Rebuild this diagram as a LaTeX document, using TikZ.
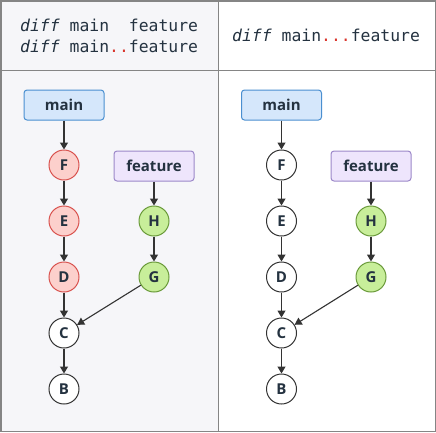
\documentclass[tikz,border=0pt]{standalone}
\usepackage{fontspec}
\setmainfont{Open Sans}
\setmonofont{DejaVu Sans Mono}
\usetikzlibrary{arrows.meta}
\definecolor{leftbg}{HTML}{F6F6F9}
\definecolor{gridc}{HTML}{858585}
\definecolor{txt}{HTML}{243240}
\definecolor{mainfill}{HTML}{D5E7FB}
\definecolor{maindraw}{HTML}{4A8FD0}
\definecolor{featfill}{HTML}{EEE5FC}
\definecolor{featdraw}{HTML}{9C88C9}
\definecolor{redfill}{HTML}{FCD0CC}
\definecolor{reddraw}{HTML}{D9534F}
\definecolor{grnfill}{HTML}{C8EE9A}
\definecolor{grndraw}{HTML}{6A9A3A}
\definecolor{dotred}{HTML}{D9342B}
\definecolor{linec}{HTML}{333333}
\tikzset{
  x=1bp, y=-1bp,
  refbox/.style={draw, rounded corners=3bp, line width=1bp, minimum width=80bp, minimum height=30bp, inner sep=0pt, font=\fontsize{15bp}{17bp}\selectfont\bfseries, text=txt},
  mainbox/.style={refbox, fill=mainfill, draw=maindraw},
  featbox/.style={refbox, fill=featfill, draw=featdraw},
  commit/.style={circle, draw=linec, line width=1bp, fill=white, minimum size=30bp, inner sep=0pt, font=\fontsize{15bp}{17bp}\selectfont\bfseries, text=txt},
  redc/.style={commit, fill=redfill, draw=reddraw},
  grnc/.style={commit, fill=grnfill, draw=grndraw},
  arr/.style={draw=linec, line width=1.1bp, -{Triangle[length=7bp,width=8bp]}},
  hdr/.style={font=\ttfamily\fontsize{16.4bp}{21bp}\selectfont, text=txt, inner sep=0pt, align=left}
}
\begin{document}
\begin{tikzpicture}
\useasboundingbox (0,0) rectangle (436,432);
\fill[leftbg] (0,0) rectangle (218.5,432);
\fill[white] (218.5,0) rectangle (436,432);
\draw[gridc, line width=1.5bp] (0.75,0.75) rectangle (435.25,431.25);
\draw[gridc, line width=1.5bp] (218.5,0) -- (218.5,432);
\draw[gridc, line width=1.5bp] (0,70.5) -- (436,70.5);
% headers
\node[hdr, anchor=west] (h1) at (20,25) {\textit{diff} main\phantom{..}feature};
\node[hdr, anchor=west] (h2) at (20,46) {\textit{diff} main\textcolor{dotred}{..}feature};
\node[hdr, anchor=west] (h3) at (232,35) {\textit{diff} main\textcolor{dotred}{...}feature};
% left
\node[mainbox] (lmain) at (64,105) {main};
\node[redc] (lF) at (64,165) {F};
\node[redc] (lE) at (64,221) {E};
\node[redc] (lD) at (64,277) {D};
\node[commit] (lC) at (64,333) {C};
\node[commit] (lB) at (64,389) {B};
\node[featbox] (lfeat) at (154,166) {feature};
\node[grnc] (lH) at (154,221) {H};
\node[grnc] (lG) at (154,277) {G};
\draw[arr] (lmain) -- (lF);
\draw[arr] (lF) -- (lE);
\draw[arr] (lE) -- (lD);
\draw[arr] (lD) -- (lC);
\draw[arr] (lC) -- (lB);
\draw[arr] (lfeat) -- (lH);
\draw[arr] (lH) -- (lG);
\draw[arr] (lG) -- (lC);
% right
\node[mainbox] (rmain) at (281.5,105) {main};
\node[commit] (rF) at (281.5,165) {F};
\node[commit] (rE) at (281.5,221) {E};
\node[commit] (rD) at (281.5,277) {D};
\node[commit] (rC) at (281.5,333) {C};
\node[commit] (rB) at (281.5,389) {B};
\node[featbox] (rfeat) at (371,166) {feature};
\node[grnc] (rH) at (371,221) {H};
\node[grnc] (rG) at (371,277) {G};
\draw[arr] (rmain) -- (rF);
\draw[arr] (rF) -- (rE);
\draw[arr] (rE) -- (rD);
\draw[arr] (rD) -- (rC);
\draw[arr] (rC) -- (rB);
\draw[arr] (rfeat) -- (rH);
\draw[arr] (rH) -- (rG);
\draw[arr] (rG) -- (rC);
\end{tikzpicture}
\end{document}
